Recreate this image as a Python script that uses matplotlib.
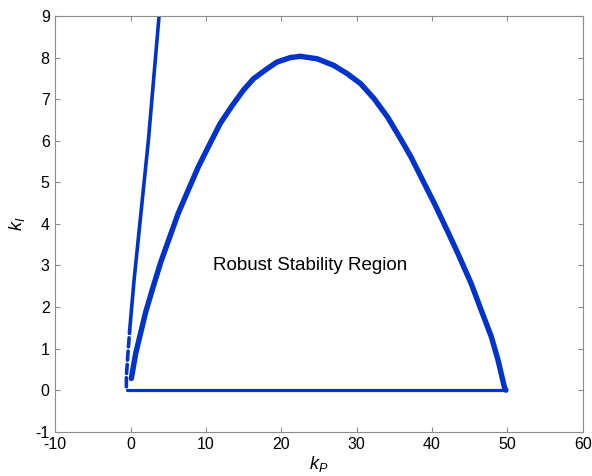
import numpy as np
import matplotlib.pyplot as plt

plt.rcParams['font.family'] = ['Liberation Sans', 'DejaVu Sans']
plt.rcParams['mathtext.fontset'] = 'custom'
plt.rcParams['mathtext.it'] = 'Liberation Sans:italic'
plt.rcParams['mathtext.rm'] = 'Liberation Sans'
plt.rcParams['axes.unicode_minus'] = False

# stability boundary (complex-root part), kP vs kI
arc_kp = [0.09, 0.67, 1.2, 2.0, 2.98, 4.0, 5.2, 6.31, 7.64, 8.98, 10.3, 11.87,
          13.42, 14.98, 16.3, 18.1, 19.4, 21.2, 22.53, 24.76, 26.97, 28.76,
          30.53, 32.31, 34.09, 35.87, 37.2, 38.97, 40.31, 42.09, 43.42, 45.2,
          46.53, 47.87, 48.76, 49.64, 49.8]
arc_ki = [0.28, 0.88, 1.28, 1.88, 2.48, 3.08, 3.69, 4.25, 4.81, 5.37, 5.85, 6.41,
          6.83, 7.22, 7.49, 7.73, 7.89, 8.0, 8.03, 7.97, 7.81, 7.61,
          7.37, 7.01, 6.57, 6.03, 5.61, 4.97, 4.49, 3.81, 3.29, 2.56,
          1.92, 1.28, 0.72, 0.04, 0.0]

# second boundary branch (steep line), upper solid part and sparse lower part
steep_kp = [-0.13, 0.45, 2.35, 3.77]
steep_ki = [1.44, 2.64, 6.0, 9.0]
steep_low_kp = [-0.57, -0.57, -0.36, -0.13]
steep_low_ki = [0.08, 0.32, 0.88, 1.44]

# real-root boundary kI = 0
zero_kp = [-0.5, 49.8]
zero_ki = [0.0, 0.0]

blue = '#0033cc'
grey = '#8c8c8c'

fig = plt.figure(figsize=(5.92, 4.76), dpi=100)
ax = fig.add_axes([0.0934, 0.0931, 0.891, 0.8733])

ax.plot(zero_kp, zero_ki, color=blue, lw=2.3, solid_capstyle='round')
ax.plot(arc_kp, arc_ki, color=blue, lw=3.9, solid_capstyle='round',
        solid_joinstyle='round')
ax.plot(steep_kp, steep_ki, color=blue, lw=2.6, solid_capstyle='round',
        solid_joinstyle='round')
ax.plot(steep_low_kp, steep_low_ki, color=blue, lw=2.6,
        linestyle=(0, (2.5, 1.2)), dash_capstyle='round')

ax.text(10.9, 3.0, 'Robust Stability Region', fontsize=13.5,
        ha='left', va='center')

ax.set_xlim(-10, 60)
ax.set_ylim(-1, 9)
ax.set_xticks(np.arange(-10, 61, 10))
ax.set_yticks(np.arange(-1, 10, 1))
ax.tick_params(direction='in', length=3.6, width=0.8, color=grey,
               labelsize=11.5, top=True, right=True, pad=4)
for s in ax.spines.values():
    s.set_color(grey)
    s.set_linewidth(0.8)

ax.set_xlabel(r'$k_P$', fontsize=13, labelpad=1)
ax.set_ylabel(r'$k_I$', fontsize=13, labelpad=6)

fig.savefig('out.png', dpi=100)
